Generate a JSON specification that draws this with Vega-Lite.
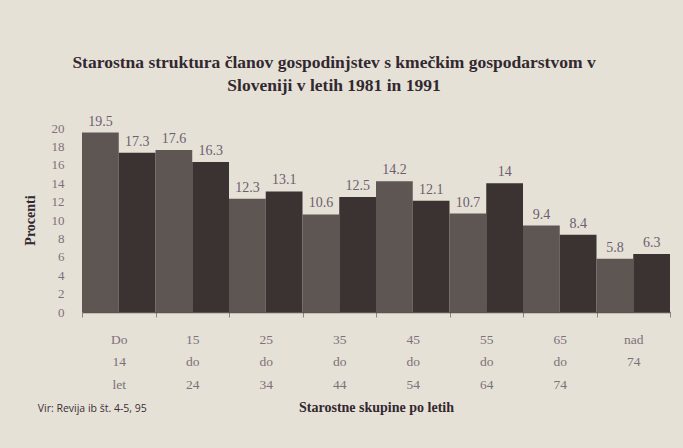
{
  "$schema": "https://vega.github.io/schema/vega-lite/v6.json",
  "width": 588,
  "height": 184,
  "autosize": {"type": "none"},
  "padding": {"left": 82, "top": 128, "right": 13, "bottom": 136},
  "background": "#e5e1d7",
  "title": {
    "text": ["Starostna struktura članov gospodinjstev s kmečkim gospodarstvom v", "Sloveniji v letih 1981 in 1991"],
    "font": "Liberation Serif",
    "fontSize": 17.5,
    "fontWeight": "bold",
    "color": "#33282f",
    "anchor": "middle",
    "dx": -42,
    "offset": 20,
    "lineHeight": 23
  },
  "config": {
    "view": {"stroke": null},
    "axis": {"grid": false},
    "axisY": {
      "labelOverlap": false,
      "titleFont": "Liberation Serif",
      "titleFontSize": 14,
      "titleFontWeight": "bold",
      "titleColor": "#33282f",
      "titlePadding": 14,
      "labelFont": "Liberation Serif",
      "labelFontSize": 13,
      "labelColor": "#7d7078",
      "labelPadding": 18,
      "ticks": false,
      "domain": false
    }
  },
  "data": {
    "values": [
      {"group": "Do 14 let", "year": "1981", "value": 19.5},
      {"group": "Do 14 let", "year": "1991", "value": 17.3},
      {"group": "15 do 24", "year": "1981", "value": 17.6},
      {"group": "15 do 24", "year": "1991", "value": 16.3},
      {"group": "25 do 34", "year": "1981", "value": 12.3},
      {"group": "25 do 34", "year": "1991", "value": 13.1},
      {"group": "35 do 44", "year": "1981", "value": 10.6},
      {"group": "35 do 44", "year": "1991", "value": 12.5},
      {"group": "45 do 54", "year": "1981", "value": 14.2},
      {"group": "45 do 54", "year": "1991", "value": 12.1},
      {"group": "55 do 64", "year": "1981", "value": 10.7},
      {"group": "55 do 64", "year": "1991", "value": 14},
      {"group": "65 do 74", "year": "1981", "value": 9.4},
      {"group": "65 do 74", "year": "1991", "value": 8.4},
      {"group": "nad 74", "year": "1981", "value": 5.8},
      {"group": "nad 74", "year": "1991", "value": 6.3}
    ]
  },
  "encoding": {
    "x": {
      "field": "group",
      "type": "nominal",
      "sort": null,
      "scale": {"paddingInner": 0, "paddingOuter": 0},
      "axis": {
        "title": "Starostne skupine po letih",
        "titleFont": "Liberation Serif",
        "titleFontSize": 14,
        "titleFontWeight": "bold",
        "titleColor": "#33282f",
        "titlePadding": 10,
        "labelAngle": 0,
        "labelExpr": "split(datum.label, ' ')",
        "labelFont": "Liberation Serif",
        "labelFontSize": 13.5,
        "labelColor": "#7d7078",
        "labelLineHeight": 22.5,
        "labelPadding": 22,
        "labelBaseline": "middle",
        "tickBand": "extent",
        "tickSize": 5,
        "tickColor": "#8a8580",
        "domainColor": "#5a5550",
        "domainWidth": 1.5
      }
    }
  },
  "layer": [
    {
      "encoding": {
        "xOffset": {"field": "year", "type": "nominal"},
        "y": {
          "field": "value",
          "type": "quantitative",
          "scale": {"domain": [0, 20]},
          "axis": {"title": "Procenti", "values": [0, 2, 4, 6, 8, 10, 12, 14, 16, 18, 20], "labelOverlap": false}
        }
      },
      "layer": [
        {
          "mark": {"type": "bar"},
          "encoding": {
            "color": {
              "field": "year",
              "type": "nominal",
              "scale": {"domain": ["1981", "1991"], "range": ["#5d5652", "#3a3331"]},
              "legend": null
            }
          }
        },
        {
          "mark": {"type": "text", "dy": -11, "font": "Liberation Serif", "fontSize": 14, "color": "#6e5d6e"},
          "encoding": {
            "text": {"field": "value", "type": "quantitative", "format": ".1~f"}
          }
        }
      ]
    },
    {
      "data": {"values": [{"note": "Vir: Revija ib št. 4-5, 95"}]},
      "mark": {"type": "text", "align": "left", "baseline": "middle", "dx": -81, "dy": 97, "font": "Open Sans", "fontSize": 10.5, "color": "#3a2f36"},
      "encoding": {
        "x": {"datum": "Do 14 let"},
        "y": {
          "datum": 0,
          "type": "quantitative",
          "axis": {"title": "Procenti", "values": [0, 2, 4, 6, 8, 10, 12, 14, 16, 18, 20], "labelOverlap": false}
        },
        "text": {"field": "note", "type": "nominal"}
      }
    }
  ]
}
